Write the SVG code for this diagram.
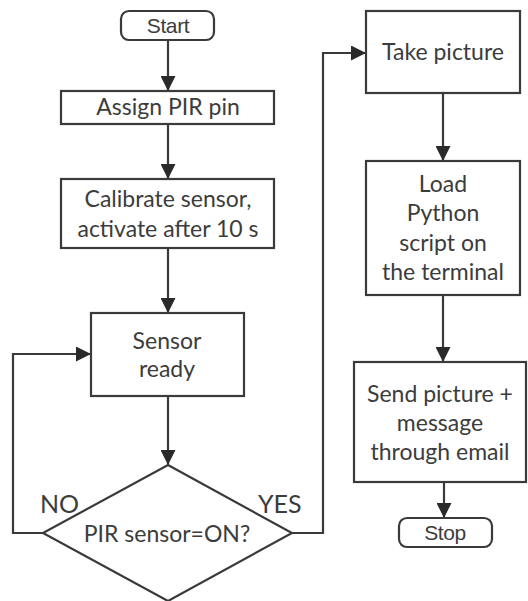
<svg xmlns="http://www.w3.org/2000/svg" width="528" height="601" viewBox="0 0 528 601">
  <style>
    .box { fill: #ffffff; stroke: #3a3a3a; stroke-width: 2.2; }
    .wire { fill: none; stroke: #3a3a3a; stroke-width: 2.2; }
    .lbl { font-family: Lato, "Liberation Sans", sans-serif; font-size: 23px; fill: #3c3c3c; text-anchor: middle; }
    .term { font-family: "Liberation Sans", Arial, sans-serif; font-size: 21px; fill: #3c3c3c; text-anchor: middle; letter-spacing: -0.4px; }
    .branch { font-family: Lato, "Liberation Sans", sans-serif; font-size: 25px; fill: #3c3c3c; }
  </style>
  <defs>
    <marker id="arrow" markerUnits="userSpaceOnUse" markerWidth="15" markerHeight="15" refX="15" refY="7.5" orient="auto">
      <path d="M0,0 L15,7.5 L0,15 Z" fill="#2a2a2a"/>
    </marker>
  </defs>
  <rect width="528" height="601" fill="#ffffff"/>

  <!-- flow connectors -->
  <g id="connectors">
    <path class="wire" d="M168,40 V91" marker-end="url(#arrow)"/>
    <path class="wire" d="M168,124 V179" marker-end="url(#arrow)"/>
    <path class="wire" d="M168,248 V313" marker-end="url(#arrow)"/>
    <path class="wire" d="M168,396 V465" marker-end="url(#arrow)"/>
    <path class="wire" d="M43,533 H13 V354 H91" marker-end="url(#arrow)"/>
    <path class="wire" d="M292,533 H323 V53 H366" marker-end="url(#arrow)"/>
    <path class="wire" d="M443,93 V161" marker-end="url(#arrow)"/>
    <path class="wire" d="M443,295 V362" marker-end="url(#arrow)"/>
    <path class="wire" d="M444,482 V518" marker-end="url(#arrow)"/>
    <text class="branch" x="40" y="513">NO</text>
    <text class="branch" x="258" y="513">YES</text>
  </g>

  <g id="start">
    <rect class="box" x="121" y="11" width="93" height="29" rx="8"/>
    <text class="term" x="168" y="33">Start</text>
  </g>

  <g id="assign-pin">
    <rect class="box" x="61" y="91" width="213" height="33"/>
    <text class="lbl" x="168" y="115">Assign PIR pin</text>
  </g>

  <g id="calibrate">
    <rect class="box" x="61" y="179" width="213" height="69"/>
    <text class="lbl" x="168" y="207">Calibrate sensor,</text>
    <text class="lbl" x="168" y="237">activate after 10 s</text>
  </g>

  <g id="sensor-ready">
    <rect class="box" x="91" y="313" width="153" height="83"/>
    <text class="lbl" x="167" y="349">Sensor</text>
    <text class="lbl" x="167" y="377">ready</text>
  </g>

  <g id="pir-check">
    <path class="box" d="M168,465 L292,533 L168,601 L43,533 Z"/>
    <text class="lbl" x="167" y="542">PIR sensor=ON?</text>
  </g>

  <g id="take-picture">
    <rect class="box" x="366" y="11" width="154" height="82"/>
    <text class="lbl" x="443" y="60">Take picture</text>
  </g>

  <g id="load-script">
    <rect class="box" x="366" y="161" width="154" height="134"/>
    <text class="lbl" x="443" y="192">Load</text>
    <text class="lbl" x="443" y="221">Python</text>
    <text class="lbl" x="443" y="251">script on</text>
    <text class="lbl" x="443" y="280">the terminal</text>
  </g>

  <g id="send-email">
    <rect class="box" x="354" y="362" width="172" height="120"/>
    <text class="lbl" x="440" y="402">Send picture +</text>
    <text class="lbl" x="440" y="431">message</text>
    <text class="lbl" x="440" y="460">through email</text>
  </g>

  <g id="stop">
    <rect class="box" x="399" y="518" width="93" height="29" rx="8"/>
    <text class="term" x="445" y="540">Stop</text>
  </g>
</svg>
